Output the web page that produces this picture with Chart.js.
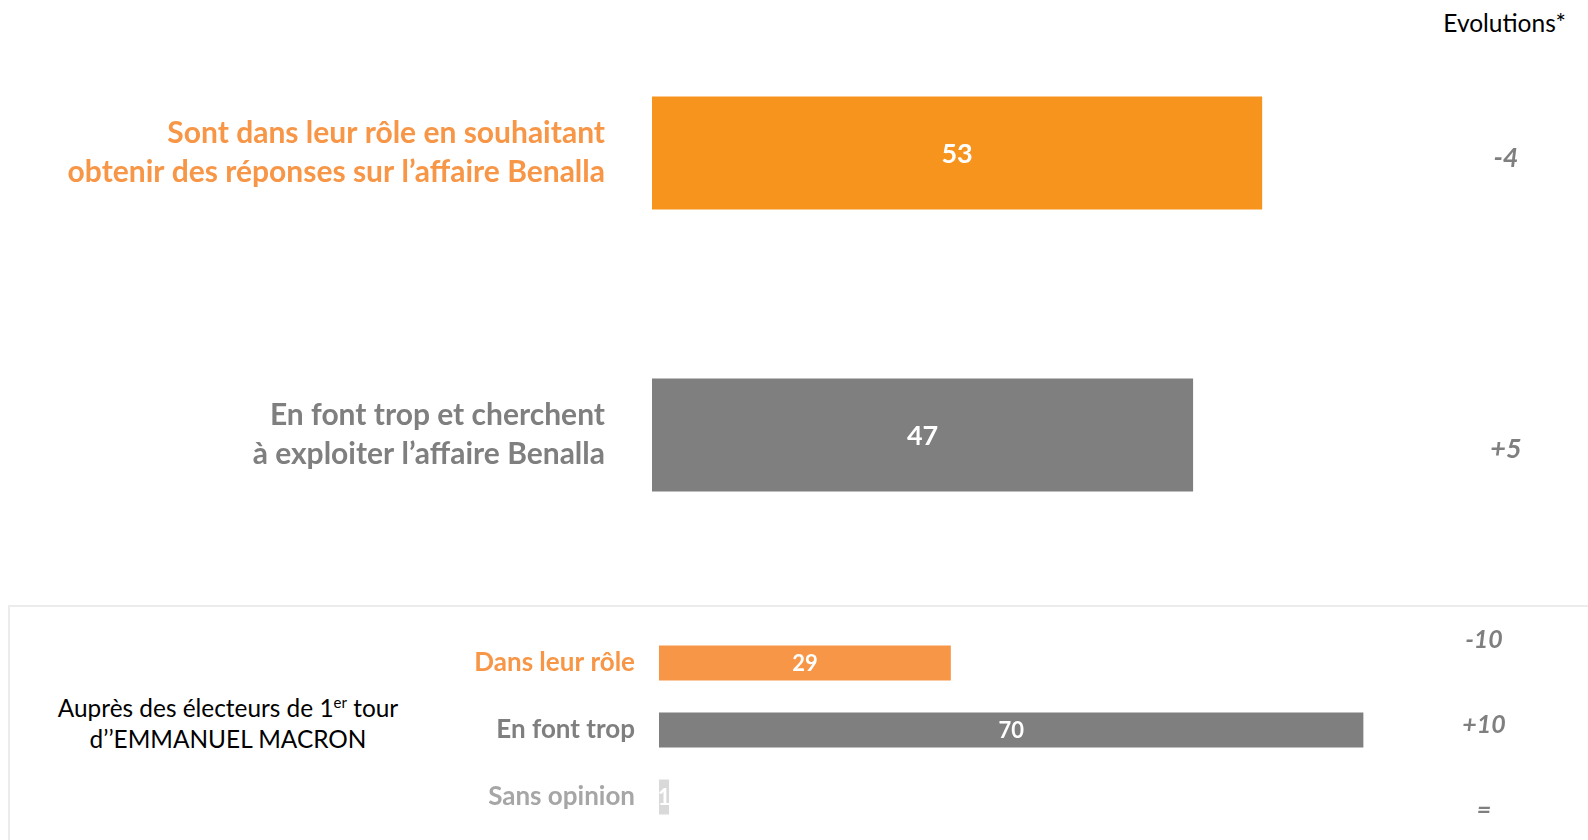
<!DOCTYPE html>
<html><head><meta charset="utf-8">
<script src="https://cdn.jsdelivr.net/npm/chart.js@4/dist/chart.umd.min.js"></script>
<style>
body{margin:0;width:1588px;height:840px;overflow:hidden;background:#fff;font-family:Lato, "Open Sans", sans-serif;position:relative}
#topWrap{position:absolute;left:0;top:0;width:1588px;height:590px;}
#box{position:absolute;left:8px;top:605px;width:1620px;height:300px;border:2px solid #ececec;box-sizing:border-box}
#botWrap{position:absolute;left:0;top:600px;width:1588px;height:240px;}
#evo{position:absolute;right:22px;top:8px;font-size:24.5px;color:#000;font-family:Lato, sans-serif}
#sub{position:absolute;left:28px;width:400px;top:692px;text-align:center;font-size:24.4px;line-height:31px;color:#000}
#sub sup{font-size:15px;vertical-align:9px;line-height:0}
</style></head>
<body>
<div id="box"></div>
<div id="evo">Evolutions*</div>
<div id="sub">Auprès des électeurs de 1<sup>er</sup> tour<br>d’’EMMANUEL MACRON</div>
<div id="topWrap"><canvas id="top"></canvas></div>
<div id="botWrap"><canvas id="bot"></canvas></div>
<script>
// ---- Data ----
const topCategories = [
  ["Sont dans leur rôle en souhaitant", "obtenir des réponses sur l’affaire Benalla"],
  ["En font trop et cherchent", "à exploiter l’affaire Benalla"]
];
const topValues = [53, 47];
const topEvolutions = ["-4", "+5"];

const botCategories = ["Dans leur rôle", "En font trop", "Sans opinion"];
const botValues = [29, 70, 1];
const botEvolutions = ["-10", "+10", "="];

// ---- Styles ----
const topBarColors = ["#f7941d", "#7f7f7f"];
const topLabelColors = ["#f79646", "#7f7f7f"];
const botBarColors = ["#f79646", "#7f7f7f", "#d9d9d9"];
const botLabelColors = ["#f79646", "#7f7f7f", "#a6a6a6"];

const valuePlugin = {
  id: 'valueLabels',
  afterDatasetsDraw(chart, args, opts) {
    const ctx = chart.ctx;
    const meta = chart.getDatasetMeta(0);
    ctx.save();
    ctx.fillStyle = '#ffffff';
    ctx.font = opts.font;
    ctx.textAlign = 'center';
    ctx.textBaseline = 'middle';
    meta.data.forEach((bar, i) => {
      const v = chart.data.datasets[0].data[i];
      ctx.fillText(String(v), (bar.x + bar.base) / 2, bar.y + 1);
    });
    ctx.restore();
  }
};

const evoPlugin = {
  id: 'evolutions',
  afterDraw(chart, args, opts) {
    const ctx = chart.ctx;
    const meta = chart.getDatasetMeta(0);
    const ys = meta.data.map(b => b.y);
    const mid = ys.reduce((a, b) => a + b, 0) / ys.length;
    ctx.save();
    ctx.fillStyle = '#7f7f7f';
    ctx.font = opts.font;
    ctx.textAlign = 'center';
    ctx.textBaseline = 'middle';
    opts.values.forEach((t, i) => {
      const y = mid + (ys[i] - mid) * opts.stretch + opts.shift;
      ctx.fillText(t, opts.x, y);
    });
    ctx.restore();
  }
};

function makeChart(id, cats, vals, barColors, labelColors, cfg) {
  return new Chart(document.getElementById(id), {
    type: 'bar',
    data: {
      labels: cats,
      datasets: [{
        data: vals,
        backgroundColor: barColors,
        categoryPercentage: 1,
        barPercentage: cfg.barPct,
        borderWidth: 0
      }]
    },
    options: {
      indexAxis: 'y',
      responsive: true,
      maintainAspectRatio: false,
      animation: false,
      layout: { padding: cfg.padding },
      plugins: {
        legend: { display: false },
        tooltip: { enabled: false },
        valueLabels: { font: cfg.valueFont },
        evolutions: { values: cfg.evo, x: cfg.evoX, font: cfg.evoFont, stretch: cfg.evoStretch, shift: cfg.evoShift }
      },
      scales: {
        x: { display: false, min: 0, max: cfg.max },
        y: {
          grid: { display: false, drawTicks: false },
          border: { display: false },
          afterFit(scale) {
            scale.width = cfg.axisWidth;
            scale.paddingTop = 0;
            scale.paddingBottom = 0;
          },
          ticks: {
            padding: cfg.tickPad,
            color: (c) => labelColors[c.index],
            font: cfg.tickFont
          }
        }
      }
    },
    plugins: [valuePlugin, evoPlugin]
  });
}

makeChart('top', topCategories, topValues, topBarColors, topLabelColors, {
  barPct: 113 / 282,
  padding: { top: 12, bottom: 14, left: 0, right: 15 },
  max: 80,
  axisWidth: 652,
  tickPad: 47,
  tickFont: { family: 'Lato', weight: 'bold', size: 30, lineHeight: 1.3 },
  valueFont: 'bold 27px Lato',
  evo: topEvolutions,
  evoX: 1506,
  evoFont: 'italic bold 27px Lato',
  evoStretch: 1.03,
  evoShift: 10
});

makeChart('bot', botCategories, botValues, botBarColors, botLabelColors, {
  barPct: 35 / 67,
  padding: { top: 29.5, bottom: 9.5, left: 0, right: 124 },
  max: 80,
  axisWidth: 659,
  tickPad: 24,
  tickFont: { family: 'Lato', weight: 'bold', size: 26, lineHeight: 1.2 },
  valueFont: 'bold 22px Lato',
  evo: botEvolutions,
  evoX: 1484,
  evoFont: 'italic bold 25px Lato',
  evoStretch: 1.27,
  evoShift: -5
});
</script>
</body></html>
